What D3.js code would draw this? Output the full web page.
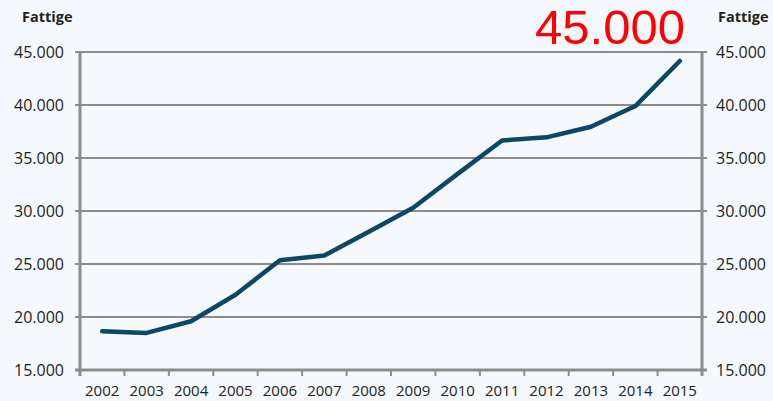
<!DOCTYPE html>
<html>
<head>
<meta charset="utf-8">
<script src="https://cdn.jsdelivr.net/npm/d3@7"></script>
<style>
  html, body { margin: 0; padding: 0; background: #f5f9fd; }
  svg { display: block; }
  text { font-family: "Open Sans", sans-serif; fill: #222; }
</style>
</head>
<body>
<div id="chart"></div>
<script>
// data
const years = ["2002","2003","2004","2005","2006","2007","2008","2009","2010","2011","2012","2013","2014","2015"];
const fattige = [18650, 18500, 19600, 22100, 25350, 25800, 28050, 30300, 33500, 36650, 36950, 37950, 39900, 44150];
const yTicks = [15000, 20000, 25000, 30000, 35000, 40000, 45000];

const width = 773, height = 401;
const margin = {top: 52, right: 71, bottom: 31, left: 80};

const svg = d3.select("#chart").append("svg")
  .attr("width", width)
  .attr("height", height);

const x = d3.scaleBand()
  .domain(years)
  .range([margin.left, width - margin.right]);

const y = d3.scaleLinear()
  .domain([15000, 45000])
  .range([height - margin.bottom, margin.top]);

const fmt = d => d3.format(",")(d).replace(/,/g, ".");

// gridlines
svg.append("g")
  .selectAll("line")
  .data(yTicks)
  .enter().append("line")
  .attr("x1", margin.left - 5)
  .attr("x2", width - margin.right + 5)
  .attr("y1", d => y(d))
  .attr("y2", d => y(d))
  .attr("stroke", "#8c8c8c")
  .attr("stroke-width", 2);

// axis lines
const axisColor = "#8c8c8c";
svg.append("line")
  .attr("x1", margin.left).attr("x2", margin.left)
  .attr("y1", margin.top).attr("y2", height - margin.bottom + 6)
  .attr("stroke", axisColor).attr("stroke-width", 3);
svg.append("line")
  .attr("x1", width - margin.right).attr("x2", width - margin.right)
  .attr("y1", margin.top).attr("y2", height - margin.bottom + 6)
  .attr("stroke", axisColor).attr("stroke-width", 3);
svg.append("line")
  .attr("x1", margin.left - 5).attr("x2", width - margin.right + 5)
  .attr("y1", y(15000)).attr("y2", y(15000))
  .attr("stroke", axisColor).attr("stroke-width", 3);

// x ticks at band edges
const edges = years.map(d => x(d)).concat([x(years[years.length - 1]) + x.bandwidth()]);
svg.append("g")
  .selectAll("line")
  .data(edges)
  .enter().append("line")
  .attr("x1", d => d).attr("x2", d => d)
  .attr("y1", y(15000)).attr("y2", y(15000) + 6)
  .attr("stroke", axisColor).attr("stroke-width", 2);

// x labels
svg.append("g")
  .selectAll("text")
  .data(years)
  .enter().append("text")
  .attr("x", d => x(d) + x.bandwidth() / 2)
  .attr("y", 396)
  .attr("text-anchor", "middle")
  .style("font-size", "15px")
  .text(d => d);

// y labels left and right
svg.append("g")
  .selectAll("text")
  .data(yTicks)
  .enter().append("text")
  .attr("x", 64)
  .attr("y", d => y(d))
  .attr("dy", "0.35em")
  .attr("text-anchor", "end")
  .style("font-size", "16px")
  .text(fmt);

svg.append("g")
  .selectAll("text")
  .data(yTicks)
  .enter().append("text")
  .attr("x", 716)
  .attr("y", d => y(d))
  .attr("dy", "0.35em")
  .style("font-size", "16px")
  .text(fmt);

// axis titles
svg.append("text")
  .attr("x", 22).attr("y", 22)
  .style("font-size", "14.5px").style("font-weight", "bold")
  .text("Fattige");
svg.append("text")
  .attr("x", 718).attr("y", 22)
  .style("font-size", "14.5px").style("font-weight", "bold")
  .text("Fattige");

// the line
const line = d3.line()
  .x((d, i) => x(years[i]) + x.bandwidth() / 2)
  .y(d => y(d));

svg.append("path")
  .datum(fattige)
  .attr("d", line)
  .attr("fill", "none")
  .attr("stroke", "#0b4767")
  .attr("stroke-width", 4.5)
  .attr("stroke-linejoin", "round")
  .attr("stroke-linecap", "round");

// red annotation
svg.append("text")
  .attr("x", 610).attr("y", 44)
  .attr("text-anchor", "middle")
  .style("font-family", "'Liberation Sans', Arial, sans-serif")
  .style("font-size", "49px")
  .style("fill", "#ff0000")
  .text("45.000");
</script>
</body>
</html>
